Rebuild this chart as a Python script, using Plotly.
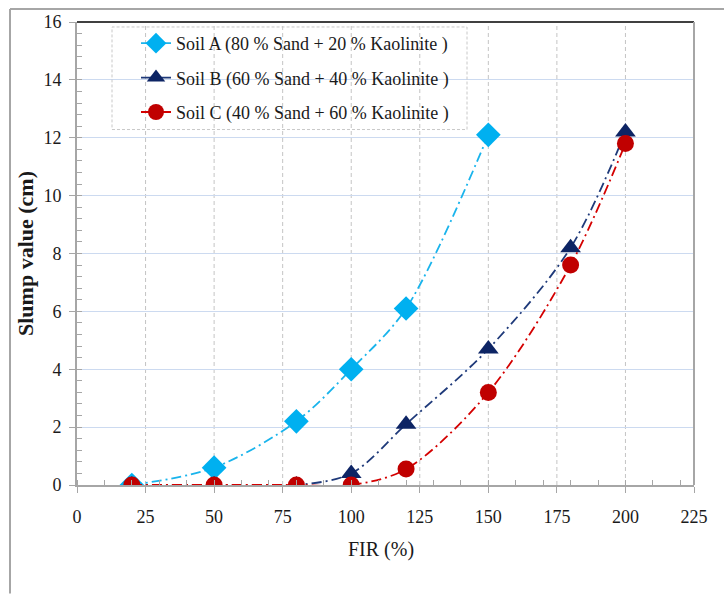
import plotly.graph_objects as go

# Slump test results for three sand/kaolinite soil mixtures
fir_a = [20, 50, 80, 100, 120, 150]
slump_a = [0.0, 0.6, 2.2, 4.0, 6.1, 12.1]

fir_b = [20, 50, 80, 100, 120, 150, 180, 200]
slump_b = [0.0, 0.0, 0.0, 0.4, 2.1, 4.7, 8.2, 12.2]

fir_c = [20, 50, 80, 100, 120, 150, 180, 200]
slump_c = [0.0, 0.0, 0.0, 0.0, 0.55, 3.2, 7.6, 11.8]

names = [
    "Soil A (80 % Sand + 20 % Kaolinite )",
    "Soil B (60 % Sand + 40 % Kaolinite )",
    "Soil C (40 % Sand + 60 % Kaolinite )",
]

x_ticks = list(range(0, 226, 25))
y_ticks = list(range(0, 17, 2))

SERIF = "Liberation Serif"
DASH = "10px,4px,2px,4px"

fig = go.Figure()

series = [
    (fir_a, slump_a, names[0], "#1ab4ec", "#00b0f0", "diamond", 19),
    (fir_b, slump_b, names[1], "#1f3a7a", "#0d2464", "triangle-up", 18),
    (fir_c, slump_c, names[2], "#d40000", "#c00000", "circle", 17),
]
for i, (xs, ys, nm, lc, mc, sym, ms) in enumerate(series):
    fig.add_trace(go.Scatter(
        x=xs, y=ys, name=nm, mode="lines+markers",
        line=dict(color=lc, width=1.8, dash=DASH, shape="spline", smoothing=0.9),
        marker=dict(symbol=sym, size=ms, color=mc, line=dict(width=0)),
        legendgroup=f"g{i}",
    ))

# plot-area geometry in pixels, used for paper-coordinate shapes
L, R, T, B = 77, 694, 20, 485
W, H = R - L, B - T


def px(xp):
    return (xp - L) / W


def py(yp):
    return (B - yp) / H


shapes = []
# vertical dashed gridlines
for xv in x_ticks[1:-1]:
    shapes.append(dict(type="line", xref="x", yref="y", x0=xv, x1=xv, y0=0, y1=16,
                       line=dict(color="#c4c4c4", width=1, dash="4px,3px"), layer="below"))
# top and right frame of the plot area
shapes.append(dict(type="line", xref="paper", yref="paper", x0=0, x1=1, y0=1, y1=1,
                   line=dict(color="#404040", width=2)))
shapes.append(dict(type="line", xref="paper", yref="paper", x0=1, x1=1, y0=0, y1=1,
                   line=dict(color="#a6a6a6", width=2)))
# outer chart border (top and left)
shapes.append(dict(type="line", xref="paper", yref="paper", x0=px(10), x1=px(724),
                   y0=py(7), y1=py(7), line=dict(color="#a6a6a6", width=2)))
shapes.append(dict(type="line", xref="paper", yref="paper", x0=px(10), x1=px(10),
                   y0=py(7), y1=py(594), line=dict(color="#a6a6a6", width=2)))
# dashed legend frame
shapes.append(dict(type="rect", xref="paper", yref="paper", x0=px(112), x1=px(467),
                   y0=py(128), y1=py(25), line=dict(color="#c8c8c8", width=1, dash="3px,2px")))

fig.update_layout(
    width=724, height=594,
    margin=dict(l=L, r=724 - R, t=T, b=594 - B),
    paper_bgcolor="white", plot_bgcolor="white",
    showlegend=True,
    legend=dict(
        x=px(136), y=py(23), xanchor="left", yanchor="top",
        bgcolor="rgba(0,0,0,0)", borderwidth=0,
        font=dict(family=SERIF, size=18, color="#1a1a1a"),
        tracegroupgap=8, traceorder="grouped",
    ),
    shapes=shapes,
    annotations=[dict(
        text="FIR (%)", xref="paper", yref="paper", x=px(381), y=py(550),
        xanchor="center", yanchor="middle", showarrow=False,
        font=dict(family=SERIF, size=20, color="#1a1a1a"),
    )],
)

fig.update_xaxes(
    range=[0, 225], tickvals=x_ticks, ticktext=[str(v) for v in x_ticks],
    showgrid=False, zeroline=False,
    showline=True, linecolor="#a6a6a6", linewidth=2,
    ticks="outside", ticklen=6, tickcolor="#a6a6a6", tickwidth=1,
    minor=dict(ticks="inside", dtick=10, tick0=0, ticklen=5, tickcolor="#a6a6a6", showgrid=False),
    tickfont=dict(family=SERIF, size=18, color="#1a1a1a"),
    ticklabelstandoff=8,
)

fig.update_yaxes(
    range=[0, 16], tickvals=y_ticks, ticktext=[str(v) for v in y_ticks],
    showgrid=True, gridcolor="#ccdaf0", gridwidth=1, zeroline=False,
    showline=True, linecolor="#a6a6a6", linewidth=2,
    ticks="outside", ticklen=6, tickcolor="#a6a6a6", tickwidth=1,
    minor=dict(ticks="inside", dtick=0.4, tick0=0, ticklen=5, tickcolor="#a6a6a6", showgrid=False),
    tickfont=dict(family=SERIF, size=18, color="#1a1a1a"),
    ticklabelstandoff=4,
    title=dict(text="<b>Slump value (cm)</b>", font=dict(family=SERIF, size=22, color="#1a1a1a"), standoff=4),
)

fig.write_html("out.html")
